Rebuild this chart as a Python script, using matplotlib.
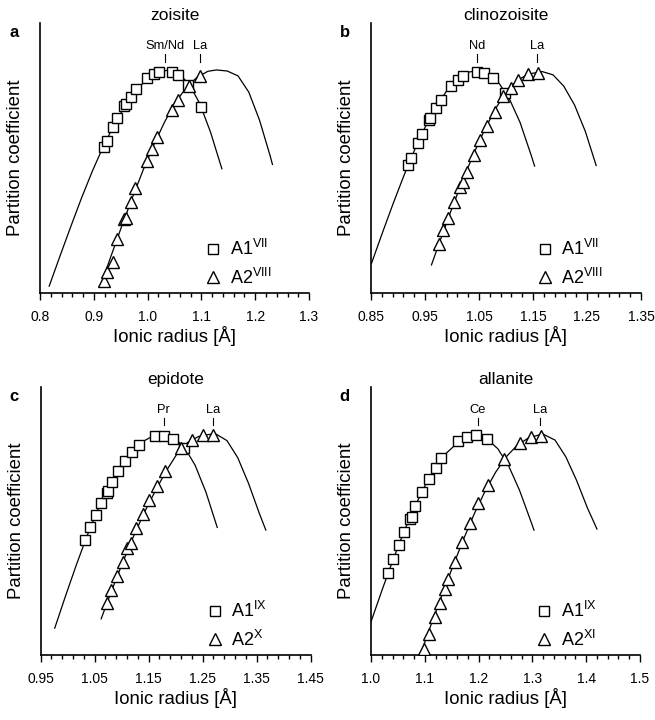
import numpy as np
import matplotlib
matplotlib.use("Agg")
import matplotlib.pyplot as plt
from matplotlib.ticker import FormatStrFormatter

plt.rcParams['font.family'] = ['Liberation Sans', 'DejaVu Sans']
plt.rcParams['mathtext.fontset'] = 'custom'
plt.rcParams['mathtext.rm'] = 'Liberation Sans'
plt.rcParams['mathtext.it'] = 'Liberation Sans:italic'
plt.rcParams['mathtext.bf'] = 'Liberation Sans:bold'

minerals = ['zoisite', 'clinozoisite', 'epidote', 'allanite']
panel_letters = ['a', 'b', 'c', 'd']
a1_labels = ['A1$^{\\mathrm{VII}}$', 'A1$^{\\mathrm{VII}}$', 'A1$^{\\mathrm{IX}}$', 'A1$^{\\mathrm{IX}}$']
a2_labels = ['A2$^{\\mathrm{VIII}}$', 'A2$^{\\mathrm{VIII}}$', 'A2$^{\\mathrm{X}}$', 'A2$^{\\mathrm{XI}}$']
x_ticks = [
    [0.8, 0.9, 1.0, 1.1, 1.2, 1.3],
    [0.85, 0.95, 1.05, 1.15, 1.25, 1.35],
    [0.95, 1.05, 1.15, 1.25, 1.35, 1.45],
    [1.0, 1.1, 1.2, 1.3, 1.4, 1.5],
]
tick_fmt = ['%.1f', '%.2f', '%.2f', '%.1f']
peak_names = [['Sm/Nd', 'La'], ['Nd', 'La'], ['Pr', 'La'], ['Ce', 'La']]
peak_r = [[1.032, 1.097], [1.046, 1.157], [1.178, 1.269], [1.198, 1.315]]

# zoisite (partition coefficient in relative units, the axis has no scale)
zo_a1_r = [0.918, 0.924, 0.936, 0.944, 0.956, 0.959, 0.969, 0.978, 0.998, 1.011, 1.022, 1.045, 1.057, 1.075, 1.099]
zo_a1_d = [54.2, 56.4, 61.6, 64.7, 69.4, 69.9, 72.7, 75.4, 79.5, 81.1, 81.9, 81.9, 80.7, 77.0, 69.0]
zo_a2_r = [0.918, 0.924, 0.935, 0.943, 0.957, 0.960, 0.969, 0.977, 0.998, 1.008, 1.017, 1.045, 1.056, 1.076, 1.097]
zo_a2_d = [4.4, 7.9, 11.6, 19.9, 27.3, 27.8, 33.6, 38.8, 48.9, 53.3, 57.7, 67.8, 71.5, 76.7, 80.4]
zo_fit1_r = [0.817, 0.837, 0.857, 0.877, 0.897, 0.917, 0.937, 0.957, 0.977, 0.997, 1.017, 1.037,
             1.057, 1.077, 1.097, 1.117, 1.138]
zo_fit1_d = [2.5, 13.6, 24.5, 35.1, 45.0, 54.0, 62.0, 68.9, 74.6, 78.9, 81.6, 82.5,
             81.3, 77.5, 70.1, 59.5, 46.0]
zo_fit2_r = [0.912, 0.932, 0.952, 0.972, 0.992, 1.012, 1.032, 1.052, 1.072, 1.092, 1.112, 1.128,
             1.148, 1.168, 1.188, 1.208, 1.228, 1.232]
zo_fit2_d = [2.3, 13.7, 24.8, 35.5, 45.7, 55.1, 63.5, 70.7, 76.1, 79.9, 82.1, 82.6,
             82.2, 80.4, 74.4, 64.0, 50.6, 47.6]

# clinozoisite
cz_a1_r = [0.919, 0.924, 0.937, 0.945, 0.958, 0.960, 0.970, 0.980, 0.999, 1.011, 1.020, 1.046, 1.060, 1.076, 1.098]
cz_a1_d = [47.4, 49.9, 55.4, 58.8, 64.1, 64.7, 68.4, 71.5, 76.7, 78.9, 80.4, 82.0, 81.6, 79.5, 74.0]
cz_a2_r = [0.976, 0.984, 0.993, 1.004, 1.015, 1.021, 1.028, 1.041, 1.052, 1.065, 1.079, 1.094, 1.109, 1.123, 1.141, 1.160]
cz_a2_d = [18.1, 23.3, 27.7, 33.6, 39.4, 41.2, 44.9, 51.1, 56.7, 61.9, 67.1, 73.0, 76.0, 78.9, 81.1, 81.6]
cz_fit1_r = [0.851, 0.871, 0.891, 0.911, 0.931, 0.951, 0.971, 0.991, 1.011, 1.031, 1.046,
             1.066, 1.086, 1.106, 1.126, 1.146, 1.153]
cz_fit1_d = [11.0, 22.2, 33.1, 43.5, 53.1, 61.7, 69.1, 75.1, 79.5, 81.8, 82.3,
             81.2, 78.0, 72.0, 63.2, 51.4, 47.0]
cz_fit2_r = [0.962, 0.982, 1.002, 1.022, 1.042, 1.062, 1.082, 1.102, 1.122, 1.142, 1.167,
             1.187, 1.207, 1.227, 1.247, 1.267]
cz_fit2_d = [10.4, 21.6, 32.5, 42.8, 52.4, 61.1, 68.7, 74.9, 78.9, 81.1, 82.0,
             80.8, 76.6, 69.6, 59.8, 47.2]

# epidote
ep_a1_r = [1.032, 1.041, 1.052, 1.062, 1.072, 1.075, 1.083, 1.094, 1.106, 1.120, 1.132, 1.161, 1.178, 1.195, 1.216]
ep_a1_d = [42.9, 47.6, 52.2, 56.6, 60.6, 61.3, 64.7, 68.7, 72.5, 75.9, 78.4, 81.8, 81.8, 80.6, 77.4]
ep_a2_r = [1.072, 1.081, 1.091, 1.102, 1.110, 1.117, 1.126, 1.139, 1.151, 1.165, 1.180, 1.209, 1.231, 1.250, 1.269]
ep_a2_d = [19.3, 24.3, 29.5, 34.8, 39.8, 41.7, 47.3, 52.6, 57.8, 63.2, 68.7, 77.1, 80.2, 82.0, 82.1]
ep_fit1_r = [0.976, 0.996, 1.016, 1.036, 1.056, 1.076, 1.096, 1.116, 1.136, 1.156, 1.176,
             1.196, 1.216, 1.236, 1.256, 1.277]
ep_fit1_d = [10.0, 22.0, 33.6, 44.5, 54.3, 62.7, 69.7, 75.3, 79.3, 81.5, 82.2,
             81.2, 77.6, 70.8, 60.8, 47.6]
ep_fit2_r = [1.062, 1.082, 1.102, 1.122, 1.142, 1.162, 1.182, 1.202, 1.222, 1.242, 1.262, 1.275,
             1.295, 1.315, 1.335, 1.355, 1.367]
ep_fit2_d = [13.5, 24.3, 34.6, 44.3, 53.2, 61.1, 68.5, 74.9, 79.3, 81.5, 82.3, 82.4,
             80.0, 73.6, 64.0, 52.8, 46.6]

# allanite
al_a1_r = [1.032, 1.041, 1.052, 1.061, 1.072, 1.076, 1.082, 1.094, 1.107, 1.121, 1.131, 1.162, 1.179, 1.196, 1.216]
al_a1_d = [30.5, 35.8, 41.0, 46.0, 50.7, 51.6, 55.7, 60.7, 65.6, 69.9, 73.4, 80.0, 81.5, 82.1, 80.6]
al_a2_r = [1.099, 1.108, 1.119, 1.128, 1.138, 1.144, 1.156, 1.170, 1.184, 1.199, 1.217, 1.247, 1.277, 1.297, 1.316]
al_a2_d = [2.1, 7.8, 14.3, 19.3, 24.5, 28.2, 34.8, 42.3, 49.1, 56.6, 63.4, 73.0, 79.0, 81.5, 81.8]
al_fit1_r = [1.0, 1.02, 1.04, 1.06, 1.08, 1.10, 1.12, 1.14, 1.16, 1.18, 1.196,
             1.216, 1.236, 1.256, 1.276, 1.296, 1.303]
al_fit1_d = [12.4, 23.9, 35.0, 45.4, 54.8, 63.0, 69.9, 75.3, 79.0, 81.2, 82.0,
             80.6, 76.9, 70.5, 61.5, 50.5, 46.6]
al_fit2_r = [1.092, 1.112, 1.132, 1.152, 1.172, 1.192, 1.212, 1.232, 1.252, 1.272, 1.292, 1.312, 1.322,
             1.342, 1.362, 1.382, 1.402, 1.420]
al_fit2_d = [0.3, 11.5, 22.4, 33.0, 43.2, 52.7, 61.1, 68.3, 74.1, 78.3, 80.9, 82.1, 82.2,
             80.2, 74.0, 65.2, 55.0, 47.0]

panels = [
    (zo_a1_r, zo_a1_d, zo_a2_r, zo_a2_d, zo_fit1_r, zo_fit1_d, zo_fit2_r, zo_fit2_d),
    (cz_a1_r, cz_a1_d, cz_a2_r, cz_a2_d, cz_fit1_r, cz_fit1_d, cz_fit2_r, cz_fit2_d),
    (ep_a1_r, ep_a1_d, ep_a2_r, ep_a2_d, ep_fit1_r, ep_fit1_d, ep_fit2_r, ep_fit2_d),
    (al_a1_r, al_a1_d, al_a2_r, al_a2_d, al_fit1_r, al_fit1_d, al_fit2_r, al_fit2_d),
]

# axes rectangles in figure fractions
rects = [
    [0.0611, 0.5931, 0.4107, 0.375],
    [0.5664, 0.5931, 0.4122, 0.375],
    [0.0621, 0.0903, 0.4122, 0.3722],
    [0.5664, 0.0903, 0.4107, 0.3722],
]


def draw_panel(ax, i, data):
    a1_r, a1_d, a2_r, a2_d, fit1_r, fit1_d, fit2_r, fit2_d = data
    ax.plot(fit1_r, fit1_d, color='black', lw=0.9, solid_joinstyle='round', zorder=2)
    ax.plot(fit2_r, fit2_d, color='black', lw=0.9, solid_joinstyle='round', zorder=2)
    sq, = ax.plot(a1_r, a1_d, ls='none', marker='s', ms=7.7, mfc='white',
                  mec='black', mew=1.0, zorder=3)
    tri, = ax.plot(a2_r, a2_d, ls='none', marker='^', ms=8.3, mfc='white',
                   mec='black', mew=1.0, zorder=4)

    # site labels above the curve maxima
    for name, r in zip(peak_names[i], peak_r[i]):
        ax.plot([r, r], [85.7, 88.4], color='black', lw=0.8)
        ax.text(r, 90.3, name, ha='center', va='baseline', fontsize=9.3)

    ticks = x_ticks[i]
    ax.set_xlim(ticks[0], ticks[-1])
    ax.set_ylim(0, 100)
    ax.spines['top'].set_visible(False)
    ax.spines['right'].set_visible(False)
    for s in ['left', 'bottom']:
        ax.spines[s].set_linewidth(1.2)
    ax.set_yticks([])
    ax.set_xticks(ticks)
    ax.set_xticks(np.arange(ticks[0], ticks[-1] + 0.001, 0.02), minor=True)
    ax.xaxis.set_major_formatter(FormatStrFormatter(tick_fmt[i]))
    ax.tick_params(axis='x', which='major', direction='out', length=5, width=1, labelsize=10, pad=7)
    ax.tick_params(axis='x', which='minor', direction='out', length=3, width=1)

    ax.set_xlabel('Ionic radius [Å]', fontsize=13.4, labelpad=2)
    ax.set_ylabel('Partition coefficient', fontsize=13.4)
    ax.yaxis.set_label_coords(-0.058, 0.5)
    ax.set_title(minerals[i], fontsize=12.5, pad=2)
    ax.text(-0.097, 0.965, panel_letters[i], transform=ax.transAxes,
            ha='center', va='center', fontsize=12, fontweight='bold')

    ax.legend([sq, tri], [a1_labels[i], a2_labels[i]], loc='lower left',
              bbox_to_anchor=(0.618, 0.02), frameon=False, fontsize=13,
              handlelength=0.8, handletextpad=0.5, borderpad=0,
              borderaxespad=0, labelspacing=0.45)


fig = plt.figure(figsize=(6.55, 7.2), dpi=100)
for i in range(4):
    ax = fig.add_axes(rects[i])
    draw_panel(ax, i, panels[i])

fig.savefig('out.png', dpi=100)
